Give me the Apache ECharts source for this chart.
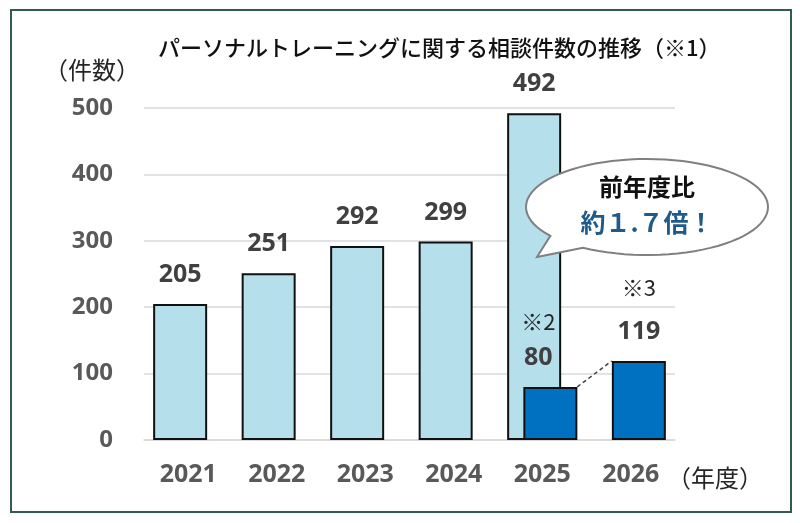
<!DOCTYPE html>
<html>
<head>
<meta charset="utf-8">
<script src="https://cdn.jsdelivr.net/npm/echarts@6/dist/echarts.min.js"></script>
<style>
  html, body { margin: 0; padding: 0; background: #fff; }
  #main { width: 800px; height: 523px; }
</style>
</head>
<body>
<div id="main"></div>
<script>
const years = ['2021', '2022', '2023', '2024', '2025', '2026'];
const totalCounts = [205, 251, 292, 299, 492, null];
const partialCounts = [null, null, null, null, 80, 119];
const partialNotes = [null, null, null, null, '※2', '※3'];

const jp = '"Noto Sans CJK JP", "Noto Sans", sans-serif';
const num = '"Noto Sans", "Open Sans", sans-serif';
const barW = 54, barShift = 8;

// per-item label tweaks for the dark bars (note line above the value)
const noteLineHeight = [0, 0, 0, 0, 42, 58];
const noteOffset = [0, 0, 0, 0, -12, 0];

const partialData = partialCounts.map(function (v, i) {
    if (v == null) return null;
    return {
        value: v,
        label: {
            offset: [noteOffset[i], 0],
            formatter: '{n|' + partialNotes[i] + '}\n{v|' + v + '}',
            rich: {
                n: { fontFamily: jp, fontSize: 22, color: '#262626', lineHeight: noteLineHeight[i] },
                v: { fontFamily: num, fontSize: 25, fontWeight: 'bold', color: '#404040', lineHeight: 30 }
            }
        }
    };
});

// dashed connector between consecutive partial bars
const links = [];
for (let i = 1; i < partialCounts.length; i++) {
    if (partialCounts[i - 1] != null && partialCounts[i] != null) {
        links.push([i - 1, partialCounts[i - 1], i, partialCounts[i]]);
    }
}

// speech bubble outline: ellipse with a tail to the lower left
function bubblePoints(cx, cy, rx, ry, t1, t2, tip) {
    const pts = [tip];
    const steps = 80;
    // go from t1 around the long way to t2 (degrees, y down)
    const span = 360 - (t1 - t2);
    for (let k = 0; k <= steps; k++) {
        const t = (t1 + span * k / steps) * Math.PI / 180;
        pts.push([cx + rx * Math.cos(t), cy + ry * Math.sin(t)]);
    }
    return pts;
}

const option = {
    animation: false,
    backgroundColor: '#fff',
    grid: { left: 144, right: 125, top: 108, bottom: 83 },
    xAxis: {
        type: 'category',
        data: years,
        axisTick: { show: false },
        axisLine: { lineStyle: { color: '#d9d9d9', width: 1.5 } },
        axisLabel: { fontFamily: num, fontSize: 25, fontWeight: 'bold', color: '#595959', margin: 22 }
    },
    yAxis: {
        type: 'value',
        min: 0,
        max: 500,
        interval: 100,
        axisLine: { show: false },
        axisTick: { show: false },
        splitLine: { lineStyle: { color: '#d9d9d9', width: 1.5 } },
        axisLabel: { fontFamily: num, fontSize: 24, fontWeight: 'bold', color: '#595959', margin: 31 }
    },
    series: [
        {
            name: 'total',
            type: 'bar',
            data: totalCounts,
            barWidth: barW,
            barGap: '-70%',
            itemStyle: { color: '#b4dfeb', borderColor: '#111', borderWidth: 2 },
            label: {
                show: true,
                position: 'top',
                distance: 14,
                fontFamily: num,
                fontSize: 25,
                fontWeight: 'bold',
                color: '#404040',
                lineHeight: 30
            }
        },
        {
            name: 'partial',
            type: 'bar',
            data: partialData,
            barWidth: barW,
            barGap: '-70%',
            itemStyle: { color: '#0070c0', borderColor: '#111', borderWidth: 2 },
            label: { show: true, position: 'top', distance: 14 }
        },
        {
            name: 'link',
            type: 'custom',
            data: links,
            encode: { x: 0, y: 1 },
            z: 5,
            renderItem: function (params, api) {
                const a = api.coord([api.value(0), api.value(1)]);
                const b = api.coord([api.value(2), api.value(3)]);
                return {
                    type: 'line',
                    shape: {
                        x1: a[0] + barShift + barW / 2, y1: a[1],
                        x2: b[0] + barShift - barW / 2, y2: b[1]
                    },
                    style: { stroke: '#404040', lineWidth: 1.5, lineDash: [4, 3] }
                };
            }
        }
    ],
    graphic: [
        {
            type: 'rect',
            shape: { x: 11, y: 10, width: 780, height: 502 },
            style: { fill: 'none', stroke: '#2f5c4c', lineWidth: 2 },
            silent: true
        },
        {
            type: 'text',
            x: 158, y: 48,
            style: { text: 'パーソナルトレーニングに関する相談件数の推移（※1）', font: '500 22px ' + jp, fill: '#111', verticalAlign: 'middle' }
        },
        {
            type: 'text',
            x: 44, y: 70,
            style: { text: '（件数）', font: '24px ' + jp, fill: '#262626', verticalAlign: 'middle' }
        },
        {
            type: 'text',
            x: 667, y: 478,
            style: { text: '（年度）', font: '24px ' + jp, fill: '#262626', verticalAlign: 'middle' }
        },
        {
            type: 'polygon',
            z: 10,
            shape: { points: bubblePoints(647, 207, 121, 48, 143, 122, [537, 257]) },
            style: { fill: '#fff', stroke: '#808080', lineWidth: 2 }
        },
        {
            type: 'text',
            z: 11,
            x: 647, y: 187,
            style: { text: '前年度比', font: 'bold 24px ' + jp, fill: '#111', align: 'center', verticalAlign: 'middle' }
        },
        {
            type: 'text',
            z: 11,
            x: 647, y: 222,
            style: { text: '約１.７倍！', font: 'bold 25px ' + jp, fill: '#1f5b8a', align: 'center', verticalAlign: 'middle' }
        }
    ]
};

const myChart = echarts.init(document.getElementById('main'));
myChart.setOption(option);
</script>
</body>
</html>
